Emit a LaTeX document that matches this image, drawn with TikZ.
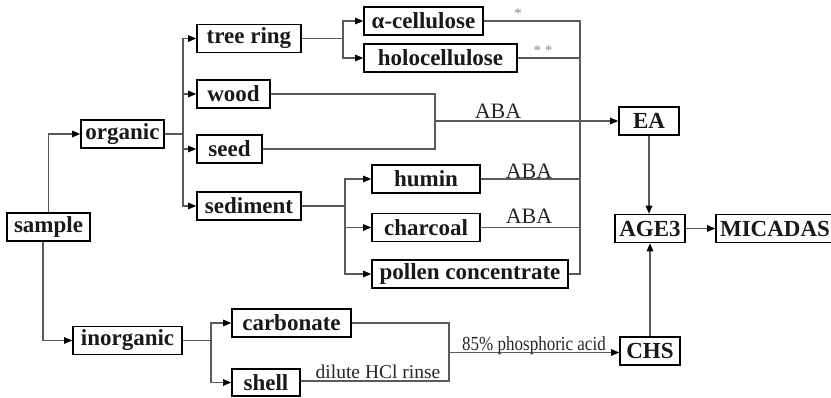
\documentclass[tikz,border=0pt]{standalone}
\usepackage{fontspec}
\setmainfont{Liberation Serif}
\usetikzlibrary{arrows.meta}
\definecolor{linegray}{HTML}{5A5A5A}
\definecolor{stargray}{HTML}{8A8A8A}
\tikzset{
  bx/.style={draw=black, line width=1.6pt, minimum height=28pt, inner sep=0pt,
    font=\bfseries\fontsize{23}{23}\selectfont, text=black!90},
  conn/.style={draw=linegray, line width=1.1pt},
  arr/.style={conn, -{Triangle[length=8pt,width=6.5pt,color=black]}},
  lbl/.style={inner sep=0pt, anchor=base, text=black!85, font=\fontsize{22}{22}\selectfont},
  star/.style={inner sep=0pt, text=stargray, font=\fontsize{15}{15}\selectfont}
}
\begin{document}
\begin{tikzpicture}[x=1pt, y=-1pt]
\useasboundingbox (0,0) rectangle (831,397);
% boxes
\node[bx, minimum width=83pt]  (sample)   at (48.5,227) {sample};
\node[bx, minimum width=83pt]  (organic)  at (122.5,134) {organic};
\node[bx, minimum width=109pt] (inorg)    at (127.5,340.5) {inorganic};
\node[bx, minimum width=104pt] (tree)     at (249,38.5) {tree ring};
\node[bx, minimum width=73pt]  (wood)     at (233.5,94) {wood};
\node[bx, minimum width=65pt]  (seed)     at (229.5,149) {seed};
\node[bx, minimum width=104pt] (sed)      at (249,206) {sediment};
\node[bx, minimum width=119pt] (acell)    at (423.5,21) {α-cellulose};
\node[bx, minimum width=153pt] (holo)     at (440.5,58) {holocellulose};
\node[bx, minimum width=108pt] (humin)    at (426,179) {humin};
\node[bx, minimum width=108pt] (charcoal) at (426,227.5) {charcoal};
\node[bx, minimum width=196pt] (pollen)   at (470,274) {pollen concentrate};
\node[bx, minimum width=119pt] (carb)     at (291.5,323) {carbonate};
\node[bx, minimum width=68pt, minimum height=27pt] (shell) at (266,382.5) {shell};
\node[bx, minimum width=60pt]  (EA)       at (649,121) {EA};
\node[bx, minimum width=70pt]  (AGE)      at (650,228.5) {AGE3};
\node[bx, minimum width=60pt]  (CHS)      at (650,351) {CHS};
\node[bx, minimum width=118pt] (MIC)      at (775,228.5) {MICADAS};
% branch points
\coordinate (ob) at (183,134);
\coordinate (tb) at (343,38.5);
\coordinate (sb) at (345,206);
\coordinate (ib) at (211,340.5);
\coordinate (ct) at (580,21);
\coordinate (cb) at (580,274);
\coordinate (wt) at (435,94);
\coordinate (wm) at (435,121);
\coordinate (ws) at (435,149);
\coordinate (ct2) at (449,323);
\coordinate (cm) at (449,352.5);
\coordinate (cs) at (449,381);
\coordinate (sl) at ([xshift=-5.5pt]sample.south);
% sample
\draw[arr] (sample.north) |- (organic.west);
\draw[arr] (sl) |- (inorg.west);
% organic
\draw[conn] (organic.east) -- (ob);
\draw[arr] (ob) |- (tree.west);
\draw[arr] (ob) |- (wood.west);
\draw[arr] (ob) |- (seed.west);
\draw[arr] (ob) |- (sed.west);
% tree ring
\draw[conn] (tree.east) -- (tb);
\draw[arr] (tb) |- (acell.west);
\draw[arr] (tb) |- (holo.west);
% sediment
\draw[conn] (sed.east) -- (sb);
\draw[arr] (sb) |- (humin.west);
\draw[arr] (sb) |- (charcoal.west);
\draw[arr] (sb) |- (pollen.west);
% inorganic
\draw[conn] (inorg.east) -- (ib);
\draw[arr] (ib) |- (carb.west);
\draw[arr] (ib) |- (shell.west);
% collector
\draw[conn] (acell.east) -- (ct) -- (cb) -- (pollen.east);
\draw[conn] (holo.east) -- (holo.east -| ct);
\draw[conn] (humin.east) -- (humin.east -| ct);
\draw[conn] (charcoal.east) -- (charcoal.east -| ct);
% wood / seed
\draw[conn] (wood.east) -- (wt) -- (ws) -- (seed.east);
\draw[arr] (wm) -- (EA.west);
% carbonate / shell
\draw[conn] (carb.east |- ct2) -- (ct2) -- (cs) -- (shell.east |- cs);
\draw[arr] (cm) -- (CHS.west |- cm);
% right column
\draw[arr] (EA.south) -- (EA.south |- AGE.north);
\draw[arr] (CHS.north) -- (AGE.south);
\draw[arr] (AGE.east) -- (MIC.west);
% labels
\node[lbl] (l1) at (498,118) {ABA};
\node[lbl] (l2) at (529,178) {ABA};
\node[lbl] (l3) at (529,223) {ABA};
\node[lbl, font=\fontsize{20}{20}\selectfont] (l4) at (534,350) {\scalebox{0.85}[1]{85\% phosphoric acid}};
\node[lbl, font=\fontsize{19.5}{19.5}\selectfont] (l5) at (378,378) {dilute HCl rinse};
\node[star] (s1) at (518,14) {*};
\node[star] (s2) at (543,51) {* *};
\end{tikzpicture}
\end{document}
